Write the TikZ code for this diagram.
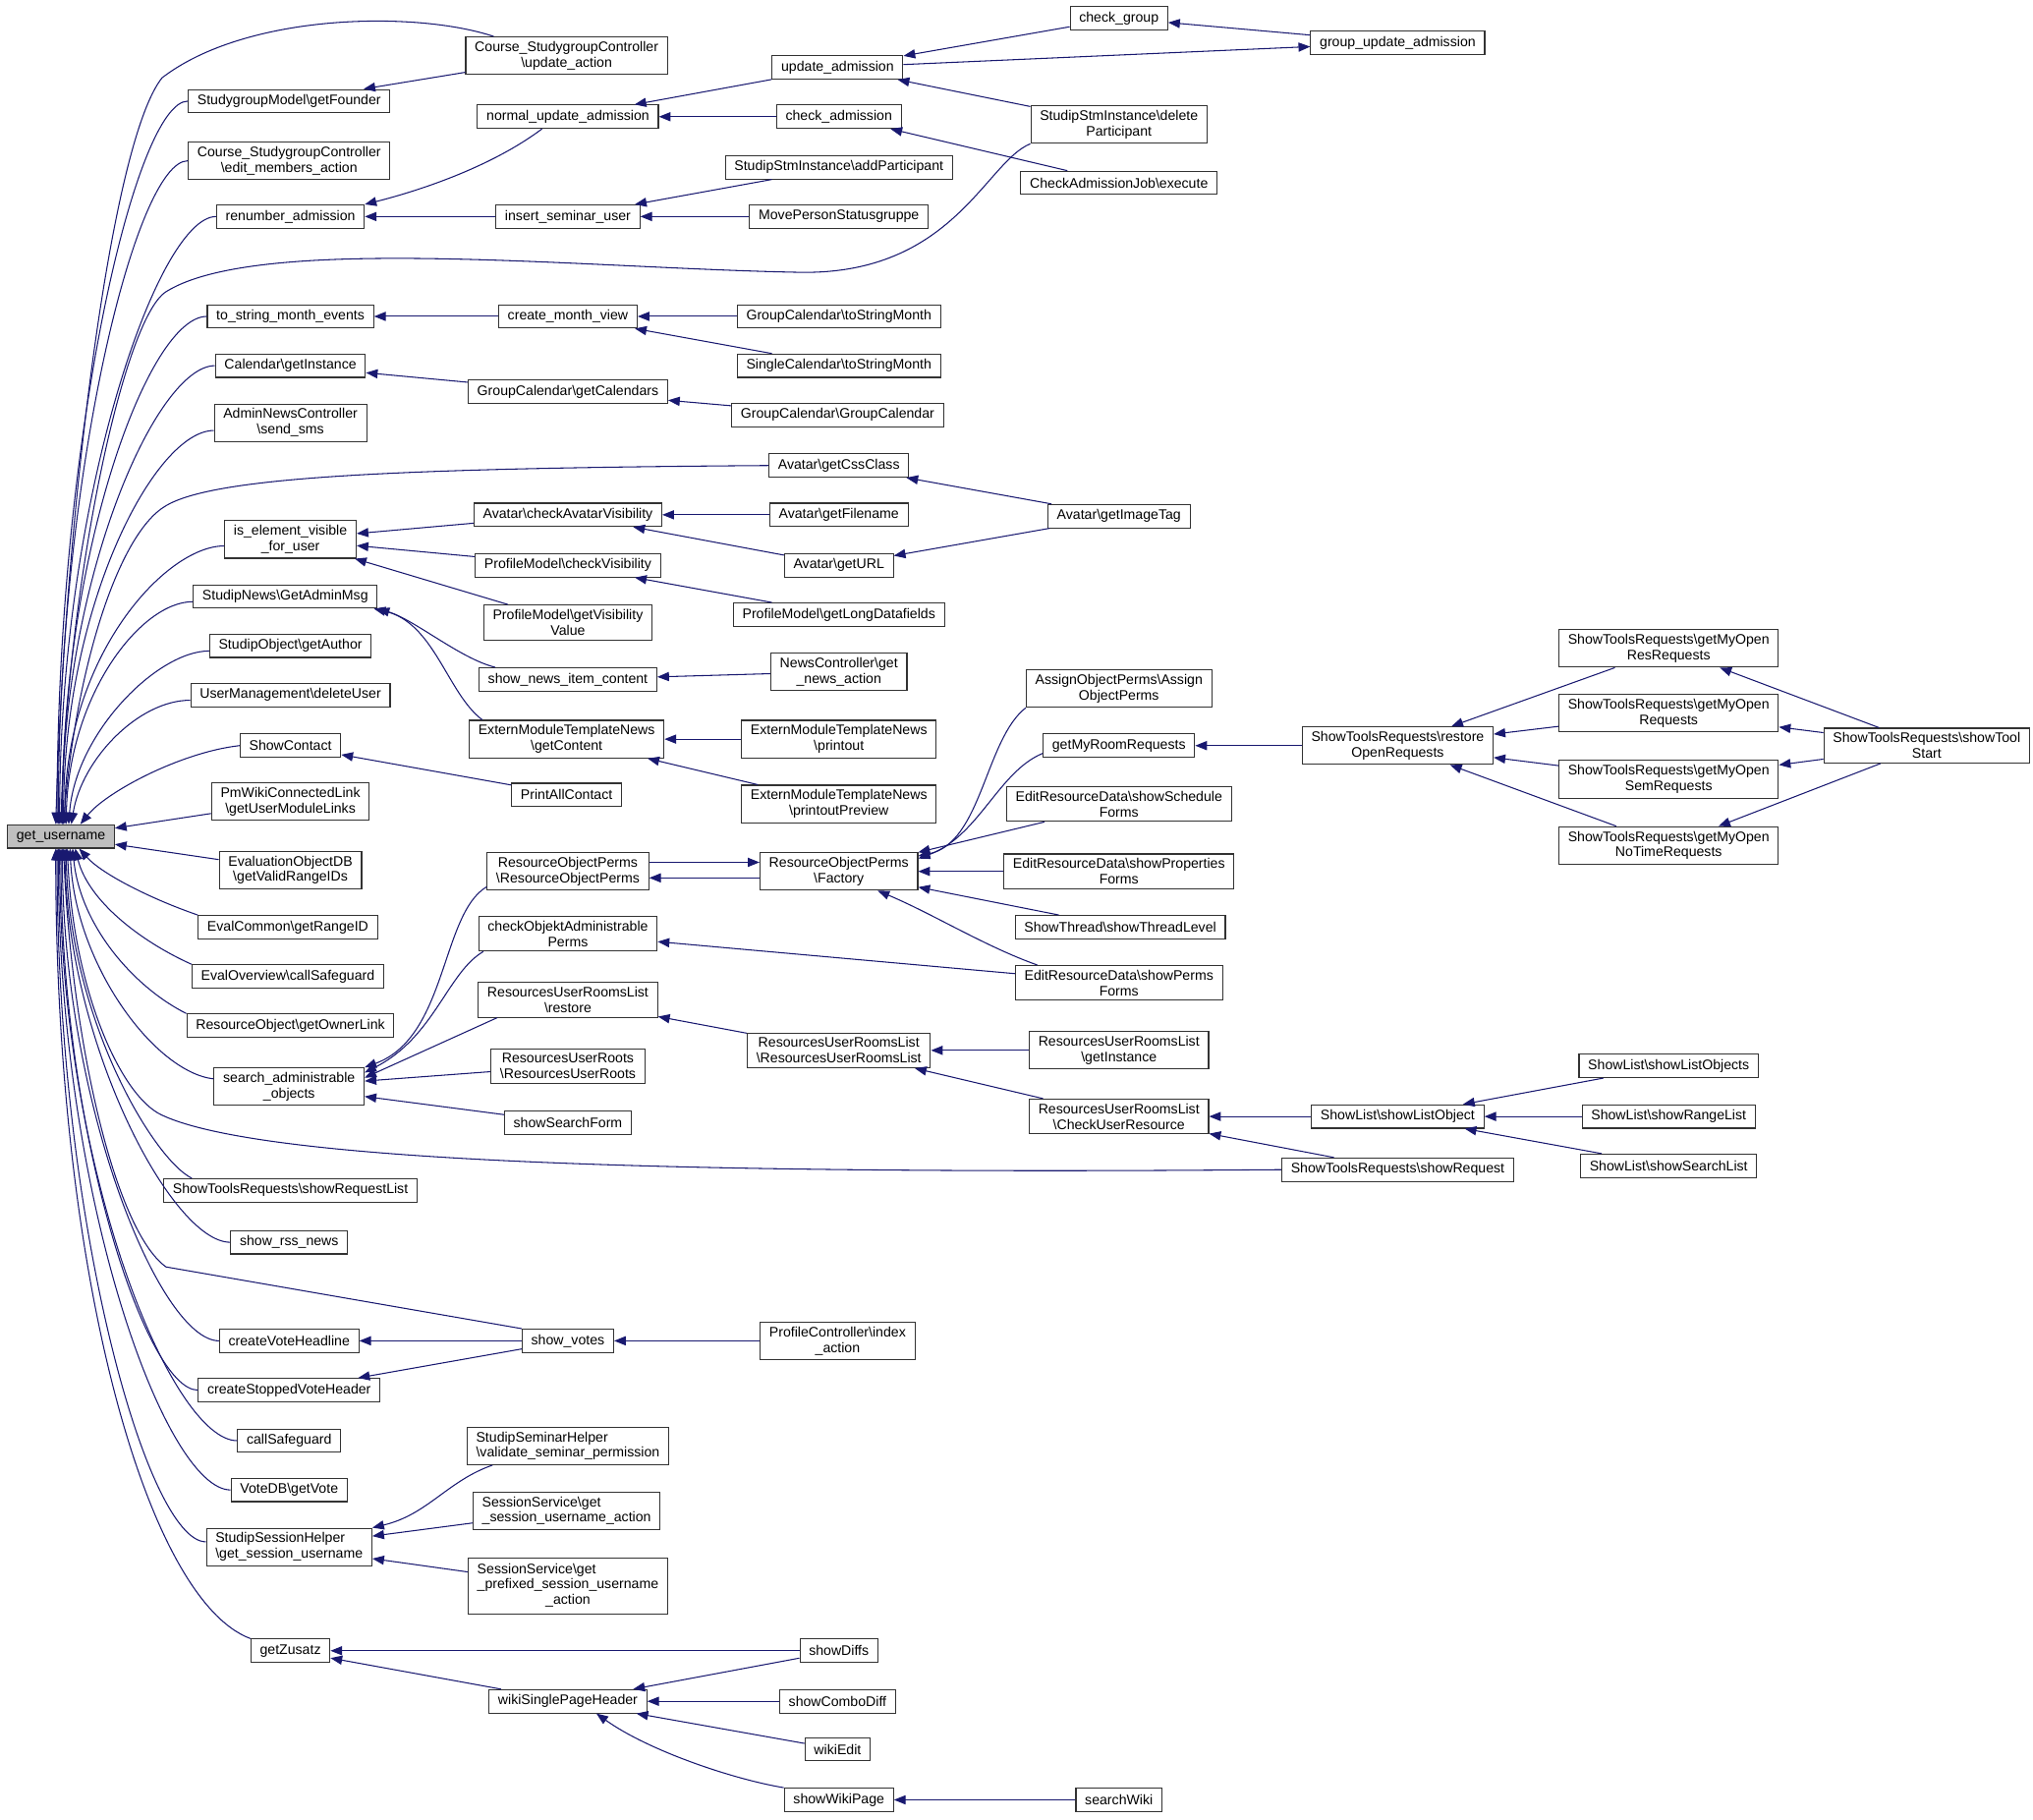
\documentclass[tikz,border=0pt]{standalone}
\usepackage{fontspec}
\setmainfont{Liberation Sans}
\usetikzlibrary{arrows.meta}
\definecolor{mynavy}{HTML}{191970}
\colorlet{mygray}{black!25}
\colorlet{myborder}{black!80}

\begin{document}
\begin{tikzpicture}[x=1pt,y=1pt]
\tikzset{FuncStyle/.style={draw=myborder, line width=0.8pt, fill=white, inner xsep=7pt, inner ysep=3.5pt, minimum height=18pt, align=center, font=\fontsize{10.7}{12}\selectfont}}
\tikzset{EdgeStyle/.style={draw=mynavy, line width=0.8pt, -{Triangle[length=9pt,width=7pt]}}}
\useasboundingbox (0,0) rectangle (1568,-1403);
\node[FuncStyle, fill=mygray] (gu) at (47,-645) {get\_username};
\node[FuncStyle] (founder) at (223,-78) {StudygroupModel\textbackslash getFounder};
\node[FuncStyle] (editmem) at (223,-124) {Course\_StudygroupController\\\textbackslash edit\_members\_action};
\node[FuncStyle] (renum) at (224,-167) {renumber\_admission};
\node[FuncStyle] (tostr) at (224,-244) {to\_string\_month\_events};
\node[FuncStyle] (calinst) at (224,-282) {Calendar\textbackslash getInstance};
\node[FuncStyle] (sendsms) at (224,-326) {AdminNewsController\\\textbackslash send\_sms};
\node[FuncStyle] (isvis) at (224,-416) {is\_element\_visible\\\_for\_user};
\node[FuncStyle] (adminmsg) at (220,-460) {StudipNews\textbackslash GetAdminMsg};
\node[FuncStyle] (author) at (224,-498) {StudipObject\textbackslash getAuthor};
\node[FuncStyle] (deluser) at (224,-536) {UserManagement\textbackslash deleteUser};
\node[FuncStyle] (contact) at (224,-575) {ShowContact};
\node[FuncStyle] (pmwiki) at (224,-618) {PmWikiConnectedLink\\\textbackslash getUserModuleLinks};
\node[FuncStyle] (evaldb) at (224,-671) {EvaluationObjectDB\\\textbackslash getValidRangeIDs};
\node[FuncStyle] (rangeid) at (222,-715) {EvalCommon\textbackslash getRangeID};
\node[FuncStyle] (evalsafe) at (222,-753) {EvalOverview\textbackslash callSafeguard};
\node[FuncStyle] (owner) at (224,-791) {ResourceObject\textbackslash getOwnerLink};
\node[FuncStyle] (searchadm) at (223,-838) {search\_administrable\\\_objects};
\node[FuncStyle] (reqlist) at (224,-918) {ShowToolsRequests\textbackslash showRequestList};
\node[FuncStyle] (rss) at (223,-958) {show\_rss\_news};
\node[FuncStyle] (votehead) at (223,-1034) {createVoteHeadline};
\node[FuncStyle] (stopped) at (223,-1072) {createStoppedVoteHeader};
\node[FuncStyle] (safeguard) at (223,-1111) {callSafeguard};
\node[FuncStyle] (getvote) at (223,-1149) {VoteDB\textbackslash getVote};
\node[FuncStyle, align=left] (sessuser) at (223,-1193) {StudipSessionHelper\\\textbackslash get\_session\_username};
\node[FuncStyle] (zusatz) at (224,-1273) {getZusatz};
\node[FuncStyle] (csupd) at (437,-43) {Course\_StudygroupController\\\textbackslash update\_action};
\node[FuncStyle] (normupd) at (438,-90) {normal\_update\_admission};
\node[FuncStyle] (insert) at (438,-167) {insert\_seminar\_user};
\node[FuncStyle] (monthview) at (438,-244) {create\_month\_view};
\node[FuncStyle] (getcals) at (438,-302) {GroupCalendar\textbackslash getCalendars};
\node[FuncStyle] (avvis) at (438,-397) {Avatar\textbackslash checkAvatarVisibility};
\node[FuncStyle] (pmcheck) at (438,-436) {ProfileModel\textbackslash checkVisibility};
\node[FuncStyle] (pmvalue) at (438,-480) {ProfileModel\textbackslash getVisibility\\Value};
\node[FuncStyle] (newsitem) at (438,-524) {show\_news\_item\_content};
\node[FuncStyle] (getcontent) at (437,-570) {ExternModuleTemplateNews\\\textbackslash getContent};
\node[FuncStyle] (printall) at (437,-613) {PrintAllContact};
\node[FuncStyle] (ropinit) at (438,-672) {ResourceObjectPerms\\\textbackslash ResourceObjectPerms};
\node[FuncStyle] (checkperms) at (438,-720) {checkObjektAdministrable\\Perms};
\node[FuncStyle] (restore) at (438,-771) {ResourcesUserRoomsList\\\textbackslash restore};
\node[FuncStyle] (roots) at (438,-822) {ResourcesUserRoots\\\textbackslash ResourcesUserRoots};
\node[FuncStyle] (searchform) at (438,-866) {showSearchForm};
\node[FuncStyle] (votes) at (438,-1034) {show\_votes};
\node[FuncStyle, align=left] (seminar) at (438,-1115) {StudipSeminarHelper\\\textbackslash validate\_seminar\_permission};
\node[FuncStyle, align=left] (sessget) at (437,-1165) {SessionService\textbackslash get\\\_session\_username\_action};
\node[FuncStyle] (sessprefix) at (438,-1223) {\begin{tabular}{@{}l@{}}SessionService\textbackslash get\\\_prefixed\_session\_username\\\multicolumn{1}{@{}c@{}}{\_action}\end{tabular}};
\node[FuncStyle] (wikihead) at (438,-1312) {wikiSinglePageHeader};
\node[FuncStyle] (updadm) at (646,-52) {update\_admission};
\node[FuncStyle] (checkadm) at (647,-90) {check\_admission};
\node[FuncStyle] (addpart) at (647,-129) {StudipStmInstance\textbackslash addParticipant};
\node[FuncStyle] (movepers) at (647,-167) {MovePersonStatusgruppe};
\node[FuncStyle] (grpmonth) at (647,-244) {GroupCalendar\textbackslash toStringMonth};
\node[FuncStyle] (sglmonth) at (647,-282) {SingleCalendar\textbackslash toStringMonth};
\node[FuncStyle] (grpcal) at (646,-320) {GroupCalendar\textbackslash GroupCalendar};
\node[FuncStyle] (cssclass) at (647,-359) {Avatar\textbackslash getCssClass};
\node[FuncStyle] (filename) at (647,-397) {Avatar\textbackslash getFilename};
\node[FuncStyle] (geturl) at (647,-436) {Avatar\textbackslash getURL};
\node[FuncStyle] (longdata) at (647,-474) {ProfileModel\textbackslash getLongDatafields};
\node[FuncStyle] (newsact) at (647,-518) {NewsController\textbackslash get\\\_news\_action};
\node[FuncStyle] (printout) at (647,-570) {ExternModuleTemplateNews\\\textbackslash printout};
\node[FuncStyle] (preview) at (647,-620) {ExternModuleTemplateNews\\\textbackslash printoutPreview};
\node[FuncStyle] (factory) at (647,-672) {ResourceObjectPerms\\\textbackslash Factory};
\node[FuncStyle] (roomslist) at (647,-810) {ResourcesUserRoomsList\\\textbackslash ResourcesUserRoomsList};
\node[FuncStyle] (indexact) at (646,-1034) {ProfileController\textbackslash index\\\_action};
\node[FuncStyle] (diffs) at (647,-1273) {showDiffs};
\node[FuncStyle] (combodiff) at (646,-1312) {showComboDiff};
\node[FuncStyle] (wikiedit) at (646,-1349) {wikiEdit};
\node[FuncStyle] (wikipage) at (647,-1388) {showWikiPage};
\node[FuncStyle] (checkgrp) at (863,-14) {check\_group};
\node[FuncStyle] (delpart) at (863,-96) {StudipStmInstance\textbackslash delete\\Participant};
\node[FuncStyle] (admjob) at (863,-141) {CheckAdmissionJob\textbackslash execute};
\node[FuncStyle] (imagetag) at (863,-398) {Avatar\textbackslash getImageTag};
\node[FuncStyle] (assign) at (863,-531) {AssignObjectPerms\textbackslash Assign\\ObjectPerms};
\node[FuncStyle] (roomreq) at (863,-575) {getMyRoomRequests};
\node[FuncStyle] (schedule) at (863,-620) {EditResourceData\textbackslash showSchedule\\Forms};
\node[FuncStyle] (properties) at (863,-672) {EditResourceData\textbackslash showProperties\\Forms};
\node[FuncStyle] (thread) at (864,-715) {ShowThread\textbackslash showThreadLevel};
\node[FuncStyle] (permsforms) at (863,-758) {EditResourceData\textbackslash showPerms\\Forms};
\node[FuncStyle] (roomsinst) at (863,-810) {ResourcesUserRoomsList\\\textbackslash getInstance};
\node[FuncStyle] (checkres) at (863,-861) {ResourcesUserRoomsList\\\textbackslash CheckUserResource};
\node[FuncStyle] (searchwiki) at (863,-1388) {searchWiki};
\node[FuncStyle] (grpupd) at (1078,-33) {group\_update\_admission};
\node[FuncStyle] (restoreopen) at (1078,-575) {ShowToolsRequests\textbackslash restore\\OpenRequests};
\node[FuncStyle] (listobj) at (1078,-861) {ShowList\textbackslash showListObject};
\node[FuncStyle] (showreq) at (1078,-902) {ShowToolsRequests\textbackslash showRequest};
\node[FuncStyle] (openres) at (1287,-500) {ShowToolsRequests\textbackslash getMyOpen\\ResRequests};
\node[FuncStyle] (openreq) at (1287,-550) {ShowToolsRequests\textbackslash getMyOpen\\Requests};
\node[FuncStyle] (opensem) at (1287,-601) {ShowToolsRequests\textbackslash getMyOpen\\SemRequests};
\node[FuncStyle] (opennotime) at (1287,-652) {ShowToolsRequests\textbackslash getMyOpen\\NoTimeRequests};
\node[FuncStyle] (listobjs) at (1287,-822) {ShowList\textbackslash showListObjects};
\node[FuncStyle] (rangelist) at (1287,-861) {ShowList\textbackslash showRangeList};
\node[FuncStyle] (searchlist) at (1287,-899) {ShowList\textbackslash showSearchList};
\node[FuncStyle] (toolstart) at (1486,-575) {ShowToolsRequests\textbackslash showTool\\Start};
\draw[EdgeStyle] ([xshift=22pt]csupd.north west) .. controls +(-60,20) and (190,-10) .. (125,-60) .. controls (85,-110) and (50,-400) .. ([xshift=-4pt]gu.north);
\draw[EdgeStyle] (founder.west) .. controls +(-40,0) and +(0,300) .. ([xshift=-3pt]gu.north);
\draw[EdgeStyle] (editmem.west) .. controls +(-40,0) and +(0,270) .. ([xshift=-2pt]gu.north);
\draw[EdgeStyle] (renum.west) .. controls +(-45,0) and +(0,250) .. ([xshift=-1pt]gu.north);
\draw[EdgeStyle] (delpart.south west) .. controls (760,-125) and (735,-212) .. (617,-210) .. controls (450,-207) and (200,-180) .. (128,-225) .. controls (95,-246) and (52,-450) .. (gu.north);
\draw[EdgeStyle] (tostr.west) .. controls +(-45,0) and +(0,210) .. ([xshift=1pt]gu.north);
\draw[EdgeStyle] (calinst.west) .. controls +(-45,0) and +(0,190) .. ([xshift=1pt]gu.north);
\draw[EdgeStyle] ([yshift=-6pt]sendsms.west) .. controls +(-45,0) and +(0,170) .. ([xshift=2pt]gu.north);
\draw[EdgeStyle] (cssclass.west) .. controls (300,-361) and (165,-368) .. (128,-390) .. controls (90,-412) and (58,-520) .. ([xshift=2pt]gu.north);
\draw[EdgeStyle] ([yshift=-5pt]isvis.west) .. controls +(-45,0) and +(0,130) .. ([xshift=3pt]gu.north);
\draw[EdgeStyle] ([yshift=-4pt]adminmsg.west) .. controls +(-40,0) and +(2,100) .. ([xshift=4pt]gu.north);
\draw[EdgeStyle] ([yshift=-4pt]author.west) .. controls +(-40,0) and +(5,70) .. ([xshift=6pt]gu.north);
\draw[EdgeStyle] ([yshift=-4pt]deluser.west) .. controls +(-40,0) and +(8,50) .. ([xshift=8pt]gu.north);
\draw[EdgeStyle] (contact.west) .. controls +(-45,-5) and +(20,25) .. ([xshift=15pt]gu.north);
\draw[EdgeStyle] (pmwiki) -- (gu);
\draw[EdgeStyle] (evaldb) -- (gu);
\draw[EdgeStyle] (rangeid.north west) .. controls +(-35,12) and +(18,-20) .. ([xshift=14pt]gu.south);
\draw[EdgeStyle] (evalsafe.north west) .. controls +(-40,18) and +(10,-40) .. ([xshift=11pt]gu.south);
\draw[EdgeStyle] (owner.north west) .. controls +(-40,20) and +(6,-60) .. ([xshift=9pt]gu.south);
\draw[EdgeStyle] ([yshift=6pt]searchadm.west) .. controls +(-45,5) and +(4,-90) .. ([xshift=7pt]gu.south);
\draw[EdgeStyle] (showreq.west) .. controls (500,-906) and (200,-895) .. (125,-860) .. controls (92,-845) and (56,-760) .. ([xshift=5pt]gu.south);
\draw[EdgeStyle] ([xshift=22pt]reqlist.north west) .. controls +(-30,15) and +(2,-130) .. ([xshift=4pt]gu.south);
\draw[EdgeStyle] (rss.west) .. controls +(-45,0) and +(2,-150) .. ([xshift=3pt]gu.south);
\draw[EdgeStyle] (votes.north west) -- (128,-977) .. controls (88,-948) and (55,-800) .. ([xshift=2pt]gu.south);
\draw[EdgeStyle] (votehead.west) .. controls +(-45,0) and +(1,-200) .. ([xshift=1pt]gu.south);
\draw[EdgeStyle] (stopped.west) .. controls +(-40,0) and +(0,-220) .. (gu.south);
\draw[EdgeStyle] (safeguard.west) .. controls +(-50,0) and +(0,-250) .. ([xshift=-1pt]gu.south);
\draw[EdgeStyle] (getvote.west) .. controls +(-50,0) and +(0,-270) .. ([xshift=-2pt]gu.south);
\draw[EdgeStyle] ([yshift=4pt]sessuser.west) .. controls +(-45,0) and +(0,-290) .. ([xshift=-3pt]gu.south);
\draw[EdgeStyle] (zusatz.north west) .. controls +(-80,30) and +(0,-330) .. ([xshift=-4pt]gu.south);
\draw[EdgeStyle] (csupd) -- (founder);
\draw[EdgeStyle] (insert) -- (renum);
\draw[EdgeStyle] ([xshift=-20pt]normupd.south) .. controls +(-40,-30) and +(40,10) .. (renum.north east);
\draw[EdgeStyle] (updadm) -- (normupd);
\draw[EdgeStyle] (checkadm) -- (normupd);
\draw[EdgeStyle] (addpart) -- (insert);
\draw[EdgeStyle] (movepers) -- (insert);
\draw[EdgeStyle] (checkgrp) -- (updadm);
\draw[EdgeStyle] (updadm) -- (grpupd);
\draw[EdgeStyle] (grpupd) -- (checkgrp);
\draw[EdgeStyle] (delpart) -- (updadm);
\draw[EdgeStyle] (admjob) -- (checkadm);
\draw[EdgeStyle] (monthview) -- (tostr);
\draw[EdgeStyle] (grpmonth) -- (monthview);
\draw[EdgeStyle] (sglmonth) -- (monthview);
\draw[EdgeStyle] (getcals) -- (calinst);
\draw[EdgeStyle] (grpcal) -- (getcals);
\draw[EdgeStyle] (avvis) -- (isvis);
\draw[EdgeStyle] (pmcheck) -- (isvis);
\draw[EdgeStyle] (pmvalue) -- (isvis);
\draw[EdgeStyle] (filename) -- (avvis);
\draw[EdgeStyle] (geturl) -- (avvis);
\draw[EdgeStyle] (longdata) -- (pmcheck);
\draw[EdgeStyle] (imagetag) -- (cssclass);
\draw[EdgeStyle] (imagetag) -- (geturl);
\draw[EdgeStyle] ([xshift=-56pt]newsitem.north) .. controls (355,-508) and (320,-478) .. (adminmsg.south east);
\draw[EdgeStyle] ([xshift=-65pt]getcontent.north) .. controls (345,-535) and (335,-480) .. ([xshift=-3pt]adminmsg.south east);
\draw[EdgeStyle] (newsact) -- (newsitem);
\draw[EdgeStyle] (printout) -- (getcontent);
\draw[EdgeStyle] (preview) -- (getcontent);
\draw[EdgeStyle] (printall) -- (contact);
\draw[EdgeStyle] ([yshift=7pt]ropinit.east) -- ([yshift=7pt]factory.west);
\draw[EdgeStyle] ([yshift=-5pt]factory.west) -- ([yshift=-5pt]ropinit.east);
\draw[EdgeStyle] ([yshift=3pt]ropinit.south west) .. controls (340,-705) and (345,-800) .. (searchadm.north east);
\draw[EdgeStyle] ([xshift=4pt]checkperms.south west) .. controls (345,-750) and (335,-800) .. ([yshift=-4pt]searchadm.north east);
\draw[EdgeStyle] ([xshift=15pt]restore.south west) -- ([yshift=-8pt]searchadm.north east);
\draw[EdgeStyle] (roots) -- (searchadm);
\draw[EdgeStyle] (searchform) -- (searchadm);
\draw[EdgeStyle] (assign.south west) .. controls (760,-570) and (757,-650) .. ([yshift=-3pt]factory.north east);
\draw[EdgeStyle] ([yshift=-6pt]roomreq.west) .. controls (770,-595) and (755,-645) .. ([yshift=-5pt]factory.north east);
\draw[EdgeStyle] (schedule) -- (factory);
\draw[EdgeStyle] (properties) -- (factory);
\draw[EdgeStyle] (thread) -- (factory);
\draw[EdgeStyle] ([xshift=-63pt]permsforms.north) .. controls (760,-730) and (720,-705) .. ([xshift=30pt]factory.south);
\draw[EdgeStyle] (permsforms) -- (checkperms);
\draw[EdgeStyle] (roomslist) -- (restore);
\draw[EdgeStyle] (roomsinst) -- (roomslist);
\draw[EdgeStyle] (checkres) -- (roomslist);
\draw[EdgeStyle] (listobj) -- (checkres);
\draw[EdgeStyle] (showreq) -- (checkres);
\draw[EdgeStyle] (listobjs) -- (listobj);
\draw[EdgeStyle] (rangelist) -- (listobj);
\draw[EdgeStyle] (searchlist) -- (listobj);
\draw[EdgeStyle] (restoreopen) -- (roomreq);
\draw[EdgeStyle] (openres) -- (restoreopen);
\draw[EdgeStyle] (openreq) -- (restoreopen);
\draw[EdgeStyle] (opensem) -- (restoreopen);
\draw[EdgeStyle] (opennotime) -- (restoreopen);
\draw[EdgeStyle] (toolstart) -- (openres);
\draw[EdgeStyle] (toolstart) -- (openreq);
\draw[EdgeStyle] (toolstart) -- (opensem);
\draw[EdgeStyle] (toolstart) -- (opennotime);
\draw[EdgeStyle] (votes) -- (votehead);
\draw[EdgeStyle] (votes) -- (stopped);
\draw[EdgeStyle] (indexact) -- (votes);
\draw[EdgeStyle] ([xshift=20pt]seminar.south west) .. controls (345,-1142) and (330,-1168) .. (sessuser.north east);
\draw[EdgeStyle] (sessget) -- (sessuser);
\draw[EdgeStyle] (sessprefix) -- (sessuser);
\draw[EdgeStyle] (diffs) -- (zusatz);
\draw[EdgeStyle] (wikihead) -- (zusatz);
\draw[EdgeStyle] (diffs) -- (wikihead);
\draw[EdgeStyle] (combodiff) -- (wikihead);
\draw[EdgeStyle] (wikiedit) -- (wikihead);
\draw[EdgeStyle] (wikipage.north west) .. controls (565,-1372) and (500,-1350) .. ([xshift=22pt]wikihead.south);
\draw[EdgeStyle] (searchwiki) -- (wikipage);
\end{tikzpicture}
\end{document}
